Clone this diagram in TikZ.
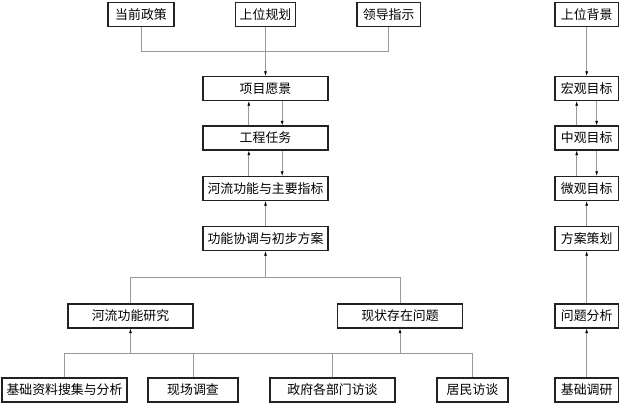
\documentclass[tikz,border=0pt]{standalone}
\usepackage{fontspec}
\setmainfont{Noto Sans CJK SC}
\usetikzlibrary{arrows.meta,positioning,calc}
\definecolor{linegray}{HTML}{9A9A9A}
\definecolor{boxline}{HTML}{222222}
\tikzset{
  planbox/.style={
    draw=boxline,
    line width=0.9pt,
    fill=white,
    minimum height=0.72cm,
    inner sep=2pt,
    align=center,
    font=\fontsize{11}{13}\selectfont
  },
  widebox/.style={planbox,minimum width=3.75cm},
  smallbox/.style={planbox,minimum width=1.9cm},
  link/.style={line width=0.6pt,draw=linegray},
  flowarrow/.style={-{Latex[length=1.4mm,width=0.9mm,color=black]},line width=0.6pt,draw=linegray}
}

\begin{document}
\begin{tikzpicture}[x=1cm,y=1cm]
  \useasboundingbox (0,0) rectangle (18.66,-12.12);

  % top inputs
  \node[planbox,minimum width=1.98cm] (policy) at (4.23,-0.435) {当前政策};
  \node[planbox,minimum width=1.8cm] (plan) at (7.965,-0.435) {上位规划};
  \node[planbox,minimum width=1.9cm] (lead) at (11.66,-0.435) {领导指示};

  % main column
  \node[widebox] (vision) at (7.965,-2.655) {项目愿景};
  \node[widebox] (task) at (7.965,-4.14) {工程任务};
  \node[widebox] (func) at (7.965,-5.655) {河流功能与主要指标};
  \node[widebox] (coord) at (7.965,-7.155) {功能协调与初步方案};

  \node[widebox] (study) at (3.915,-9.48) {河流功能研究};
  \node[widebox] (status) at (12.0,-9.48) {现状存在问题};

  % bottom row
  \node[widebox] (data) at (1.935,-11.7) {基础资料搜集与分析};
  \node[planbox,minimum width=2.7cm] (survey) at (5.79,-11.7) {现场调查};
  \node[widebox] (gov) at (9.975,-11.7) {政府各部门访谈};
  \node[planbox,minimum width=2.13cm] (resident) at (14.175,-11.7) {居民访谈};

  % right column
  \node[smallbox] (background) at (17.6,-0.435) {上位背景};
  \node[smallbox] (macro) at (17.6,-2.655) {宏观目标};
  \node[smallbox] (meso) at (17.6,-4.14) {中观目标};
  \node[smallbox] (micro) at (17.6,-5.655) {微观目标};
  \node[smallbox] (scheme) at (17.6,-7.155) {方案策划};
  \node[smallbox] (analysis) at (17.6,-9.48) {问题分析};
  \node[smallbox] (basic) at (17.6,-11.7) {基础调研};

  \coordinate (topbus) at (0,-1.53);
  \coordinate (midbus) at (0,-8.31);
  \coordinate (lowbus) at (0,-10.59);

  % inputs to vision
  \draw[link] (policy.south) |- (topbus -| lead.south) -- (lead.south);
  \draw[flowarrow] (plan.south) -- (vision.north);

  % up and down between levels
  \draw[flowarrow] ([xshift=-0.5cm]task.north) -- ([xshift=-0.5cm]vision.south);
  \draw[flowarrow] ([xshift=0.5cm]vision.south) -- ([xshift=0.5cm]task.north);
  \draw[flowarrow] ([xshift=-0.5cm]func.north) -- ([xshift=-0.5cm]task.south);
  \draw[flowarrow] ([xshift=0.5cm]task.south) -- ([xshift=0.5cm]func.north);
  \draw[flowarrow] (coord.north) -- (func.south);

  % studies to coordination
  \draw[link] (study.north) |- (midbus -| status.north) -- (status.north);
  \draw[flowarrow] (coord.south |- midbus) -- (coord.south);

  % field work to studies
  \draw[link] (data.north) |- (lowbus -| resident.north) -- (resident.north);
  \draw[link] (survey.north) -- (survey.north |- lowbus);
  \draw[link] (gov.north) -- (gov.north |- lowbus);
  \draw[flowarrow] (study.south |- lowbus) -- (study.south);
  \draw[flowarrow] (status.south |- lowbus) -- (status.south);

  % right column chain
  \draw[flowarrow] (background.south) -- (macro.north);
  \draw[flowarrow] ([xshift=-0.3cm]meso.north) -- ([xshift=-0.3cm]macro.south);
  \draw[flowarrow] ([xshift=0.3cm]macro.south) -- ([xshift=0.3cm]meso.north);
  \draw[flowarrow] ([xshift=-0.3cm]micro.north) -- ([xshift=-0.3cm]meso.south);
  \draw[flowarrow] ([xshift=0.3cm]meso.south) -- ([xshift=0.3cm]micro.north);
  \draw[flowarrow] (scheme.north) -- (micro.south);
  \draw[flowarrow] (analysis.north) -- (scheme.south);
  \draw[flowarrow] (basic.north) -- (analysis.south);
\end{tikzpicture}
\end{document}
